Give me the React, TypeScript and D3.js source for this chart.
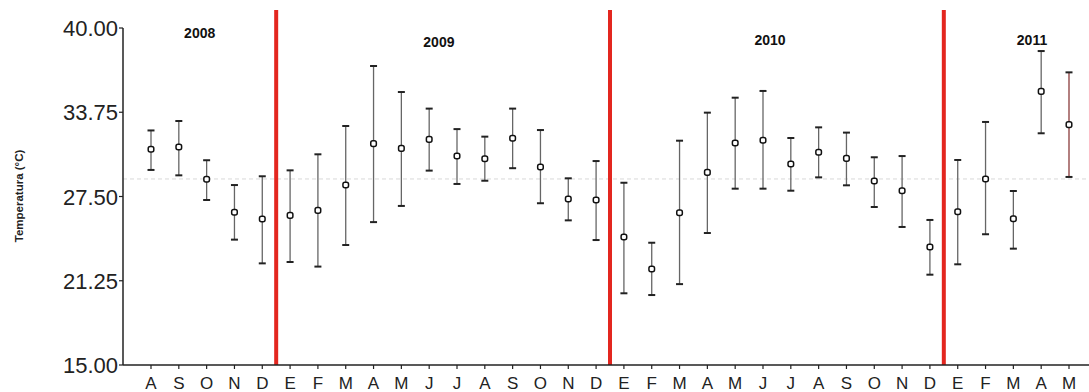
import React from 'react';
import * as d3 from 'd3';

const months = ['A','S','O','N','D','E','F','M','A','M','J','J','A','S','O','N','D','E','F','M','A','M','J','J','A','S','O','N','D','E','F','M','A','M'];
const means = [31.0,31.17,28.78,26.33,25.83,26.1,26.47,28.35,31.42,31.07,31.74,30.5,30.3,31.82,29.69,27.31,27.24,24.5,22.12,26.3,29.29,31.47,31.67,29.91,30.78,30.33,28.65,27.93,23.75,26.37,28.8,25.85,35.3,32.83];
const upper = [32.4,33.1,30.19,28.35,29.0,29.44,30.63,32.73,37.18,35.25,34.02,32.5,31.94,34.02,32.43,28.85,30.13,28.52,24.07,31.64,33.72,34.83,35.33,31.84,32.63,32.24,30.41,30.5,25.76,30.21,33.03,27.91,38.29,36.71];
const lower = [29.47,29.07,27.24,24.3,22.54,22.64,22.3,23.9,25.6,26.8,29.42,28.43,28.67,29.6,27.0,25.73,24.27,20.32,20.19,21.0,24.79,28.08,28.08,27.93,28.92,28.33,26.72,25.24,21.7,22.47,24.7,23.63,32.19,28.95];
const yTicks = [15, 21.25, 27.5, 33.75, 40];
const yearLabels = ['2008','2009','2010','2011'];
const yearCenters = [1.75, 10.35, 22.25, 31.67];
const yearBreaks = [4, 16, 28];
const refLine = 28.8;

export default function App() {
  const W = 1089, H = 392;
  const idx = months.map((_, i) => i);
  const x = d3.scalePoint<number>().domain(idx).range([151, 1069]);
  const y = d3.scaleLinear().domain([15, 40]).range([365, 28]);
  const x0 = 123;
  const font = 'Liberation Sans, Arial, sans-serif';
  const yearY = [38, 47, 45, 45];
  return (
    <svg width={W} height={H} style={{ position: 'absolute', left: 0, top: 0, background: '#fff' }}>
      <line x1={x0} x2={W} y1={y(refLine)} y2={y(refLine)} stroke="#d8d8d8" strokeWidth={1} strokeDasharray="4,3" />
      {yearBreaks.map((b, i) => {
        const xb = ((x(b) as number) + (x(b + 1) as number)) / 2;
        return <line key={'rb' + i} x1={xb} x2={xb} y1={10} y2={y(15)} stroke="#e3261f" strokeWidth={4} />;
      })}
      {idx.map(i => {
        const cx = x(i) as number;
        const col = i === idx.length - 1 ? '#8a3b3b' : '#666';
        return (
          <g key={'e' + i}>
            <line x1={cx} x2={cx} y1={y(upper[i])} y2={y(lower[i])} stroke={col} strokeWidth={1.3} />
            <line x1={cx - 3.5} x2={cx + 3.5} y1={y(upper[i])} y2={y(upper[i])} stroke="#222" strokeWidth={2} />
            <line x1={cx - 3.5} x2={cx + 3.5} y1={y(lower[i])} y2={y(lower[i])} stroke="#222" strokeWidth={2} />
            <rect x={cx - 2.8} y={y(means[i]) - 2.8} width={5.6} height={5.6} rx={2} fill="#fff" stroke="#111" strokeWidth={1.5} />
          </g>
        );
      })}
      <line x1={x0} x2={x0} y1={y(40)} y2={y(15)} stroke="#222" strokeWidth={1.5} />
      <line x1={x0} x2={W} y1={y(15)} y2={y(15)} stroke="#222" strokeWidth={1.5} />
      {yTicks.map((t, i) => (
        <g key={'yt' + i}>
          <line x1={x0 - 4} x2={x0} y1={y(t)} y2={y(t)} stroke="#222" strokeWidth={1.2} />
          <text x={x0 - 5} y={y(t) + 8} textAnchor="end" fontFamily={font} fontSize={22} fill="#222">{d3.format('.2f')(t)}</text>
        </g>
      ))}
      {idx.map(i => (
        <g key={'xt' + i}>
          <line x1={x(i) as number} x2={x(i) as number} y1={y(15)} y2={y(15) + 4} stroke="#222" strokeWidth={1.2} />
          <text x={x(i) as number} y={389} textAnchor="middle" fontFamily={font} fontSize={17} fill="#222">{months[i]}</text>
        </g>
      ))}
      {yearLabels.map((lab, i) => {
        const c = yearCenters[i];
        const xa = x(Math.floor(c)) as number;
        const xb = x(Math.min(Math.floor(c) + 1, idx.length - 1)) as number;
        const xc = xa + (xb - xa) * (c - Math.floor(c));
        return <text key={'yl' + i} x={xc} y={yearY[i]} textAnchor="middle" fontFamily={font} fontSize={14} fontWeight="bold" fill="#111">{lab}</text>;
      })}
      <text transform={`translate(23,196) rotate(-90)`} textAnchor="middle" fontFamily={font} fontSize={11.5} fontWeight="bold" fill="#222">Temperatura (°C)</text>
    </svg>
  );
}
